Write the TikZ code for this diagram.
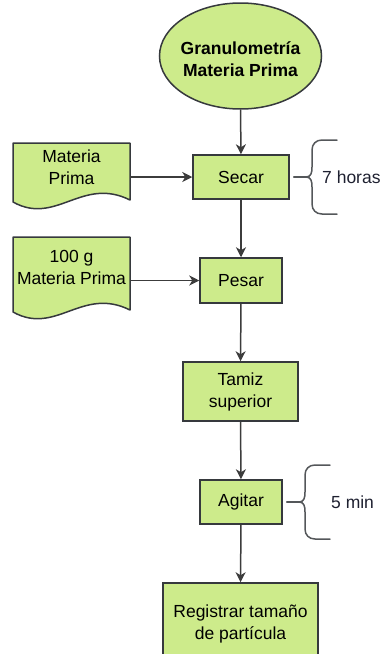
\documentclass[tikz,border=0pt]{standalone}
\usepackage{fontspec}
\setmainfont{Liberation Sans}
\usetikzlibrary{shapes.geometric,arrows.meta}
\definecolor{limefill}{HTML}{CDEB8B}
\definecolor{limeline}{HTML}{36393D}
\definecolor{flowline}{HTML}{3C3C3C}
\definecolor{labeltext}{HTML}{1E2030}
\tikzset{
  base/.style={font=\fontsize{17.5}{22}\selectfont, text=black, align=center, inner sep=0pt},
  procbox/.style={base, rectangle, draw=limeline, fill=limefill, line width=1.5pt},
  startshape/.style={ellipse, draw=limeline, fill=limefill, line width=1.5pt, inner sep=0pt,
    minimum width=162, minimum height=106},
  docshape/.style={draw=limeline, fill=limefill, line width=1.5pt, line join=round},
  doctext/.style={base, minimum width=117},
  flow/.style={draw=flowline, line width=1.5pt, -{Stealth[length=10pt,width=10pt,inset=3pt]}},
  curly/.style={draw=limeline!85!white, line width=1.5pt, line cap=round},
  note/.style={base, anchor=west, text=labeltext},
}
\begin{document}
\begin{tikzpicture}[x=1pt,y=-1pt]
  \useasboundingbox (0,0) rectangle (381,654);
  \clip (0,0) rectangle (381,654);

  % start terminal
  \node[startshape] (start) at (240.5,56) {};
  \node[base, font=\fontsize{17.5}{22}\selectfont\bfseries] (startlbl) at (240.5,59) {Granulometría\\Materia Prima};

  % input documents
  \filldraw[docshape] (13,143) -- (130,143) -- (130,200)
    .. controls (82,176) and (56,226) .. (13,202) -- cycle;
  \filldraw[docshape] (13,237) -- (130,237) -- (130,310)
    .. controls (82,286) and (56,336) .. (13,312) -- cycle;
  \node[doctext] (docA) at (71.5,167) {Materia\\Prima};
  \node[doctext] (docB) at (71.5,267.5) {100 g\\Materia Prima};

  % process steps
  \node[procbox, minimum width=96, minimum height=44] (secar) at (241,177) {Secar};
  \node[procbox, minimum width=82, minimum height=45] (pesar) at (241,280.5) {Pesar};
  \node[procbox, minimum width=115, minimum height=59] (tamiz) at (240.5,391.5) {Tamiz\\superior};
  \node[procbox, minimum width=155, minimum height=82] (registrar) at (240.5,624) {Registrar tamaño\\de partícula};
  \node[procbox, minimum width=82, minimum height=44] (agitar) at (241,502) {Agitar};

  % main flow
  \draw[flow] (start.south) -- (secar.north);
  \draw[flow] (secar.south) -- (pesar.north);
  \draw[flow] (pesar.south) -- (tamiz.north);
  \draw[flow] (tamiz.south) -- (agitar.north);
  \draw[flow] (agitar.south) -- (registrar.north);
  \draw[flow] (docA.east |- secar.west) -- (secar.west);
  \draw[flow] (docB.east |- pesar.west) -- (pesar.west);

  % duration braces
  \coordinate (tipA) at (306,177);
  \draw[curly] ([xshift=4pt]secar.east) -- (tipA);
  \draw[curly] (tipA) .. controls (311,177) and (312,173) .. (312,167) -- (312,150)
    .. controls (312,144) and (316,140) .. (322,140) -- (337,140);
  \draw[curly] (tipA) .. controls (311,177) and (312,181) .. (312,187) -- (312,204)
    .. controls (312,210) and (316,214) .. (322,214) -- (337,214);
  \node[note] (durA) at (322,177) {7 horas};

  \coordinate (tipB) at (299,502);
  \draw[curly] ([xshift=4pt]agitar.east) -- (tipB);
  \draw[curly] (tipB) .. controls (304,502) and (305,498) .. (305,492) -- (305,475)
    .. controls (305,469) and (309,465) .. (315,465) -- (330,465);
  \draw[curly] (tipB) .. controls (304,502) and (305,506) .. (305,512) -- (305,529)
    .. controls (305,535) and (309,539) .. (315,539) -- (330,539);
  \node[note] (durB) at (331,502) {5 min};
\end{tikzpicture}
\end{document}
